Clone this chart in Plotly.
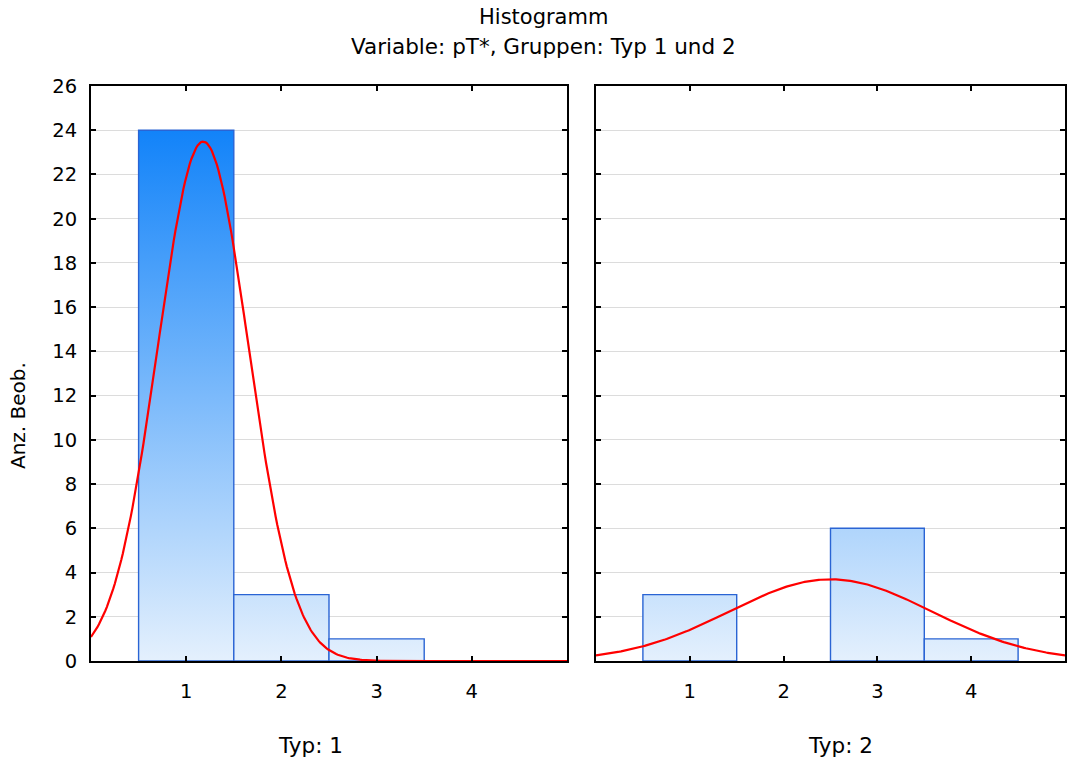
import numpy as np
import plotly.graph_objects as go

# ---- data ----
bins = [1, 2, 3, 4]
counts_typ1 = [24, 3, 1, 0]
counts_typ2 = [3, 0, 6, 1]
group_labels = ["Typ: 1", "Typ: 2"]
y_ticks = list(range(0, 27, 2))

title = "Histogramm"
subtitle = "Variable: pT*, Gruppen: Typ 1 und 2"
y_title = "Anz. Beob."

W, H = 1067, 762
FONT = "DejaVu Sans, Verdana, sans-serif"

fig = go.Figure()

def add_panel(counts, xa, ya):
    bw = 1.0
    for b, c in zip(bins, counts):
        if c <= 0:
            continue
        x0, x1 = b - bw / 2, b + bw / 2
        fig.add_trace(go.Scatter(
            x=[x0, x0, x1, x1, x0], y=[0, c, c, 0, 0],
            mode="lines", fill="toself",
            line=dict(color="#2a64d4", width=1.4),
            fillgradient=dict(type="vertical",
                              colorscale=[[0, "#e4f0fd"], [1, "#1283f9"]],
                              start=0, stop=24),
            xaxis=xa, yaxis=ya, showlegend=False, hoverinfo="skip"))
    # fitted normal curve from the histogram counts
    arr_b = np.array(bins, dtype=float)
    arr_c = np.array(counts, dtype=float)
    n = arr_c.sum()
    mu = (arr_b * arr_c).sum() / n
    sd = np.sqrt(((arr_b - mu) ** 2 * arr_c).sum() / (n - 1))
    xs = np.linspace(0, 5, 300)
    ys = n * bw / (sd * np.sqrt(2 * np.pi)) * np.exp(-0.5 * ((xs - mu) / sd) ** 2)
    fig.add_trace(go.Scatter(x=xs, y=ys, mode="lines",
                             line=dict(color="#ff0000", width=2.2),
                             xaxis=xa, yaxis=ya, showlegend=False, hoverinfo="skip"))

add_panel(counts_typ1, "x", "y")
add_panel(counts_typ2, "x2", "y2")

ydom = [1 - 661 / H, 1 - 86 / H]
axis_common = dict(showline=True, linecolor="black", linewidth=2, mirror="allticks",
                   ticks="inside", ticklen=5, tickwidth=2, tickcolor="black",
                   zeroline=False, automargin=False,
                   tickfont=dict(family=FONT, size=19.5, color="black"))

xcommon = dict(axis_common, range=[0, 5], tickvals=bins, showgrid=False, ticklabelstandoff=12)
ycommon = dict(axis_common, range=[0, 26], tickvals=y_ticks, showgrid=True,
               gridcolor="#dcdcdc", gridwidth=1)

def ann(text, x, y, size, angle=0):
    return dict(text=text, x=x / W, y=1 - y / H, xref="paper", yref="paper",
                xanchor="center", yanchor="middle", showarrow=False, textangle=angle,
                font=dict(family=FONT, size=size, color="black"))

fig.update_layout(
    template="none",
    width=W, height=H,
    margin=dict(l=0, r=0, t=0, b=0, pad=0, autoexpand=False),
    paper_bgcolor="white", plot_bgcolor="white",
    xaxis=dict(xcommon, domain=[91 / W, 567 / W], anchor="y"),
    xaxis2=dict(xcommon, domain=[596 / W, 1065 / W], anchor="y2"),
    yaxis=dict(ycommon, domain=ydom, anchor="x", ticklabelstandoff=8),
    yaxis2=dict(ycommon, domain=ydom, anchor="x2", matches="y", showticklabels=False),
    annotations=[
        ann(title, 543, 17, 21),
        ann(subtitle, 543, 46, 21.5),
        ann(group_labels[0], 310, 745, 21.5),
        ann(group_labels[1], 840, 745, 21.5),
        ann(y_title, 18, 416, 20, -90),
    ],
)

fig.write_html("out.html")
